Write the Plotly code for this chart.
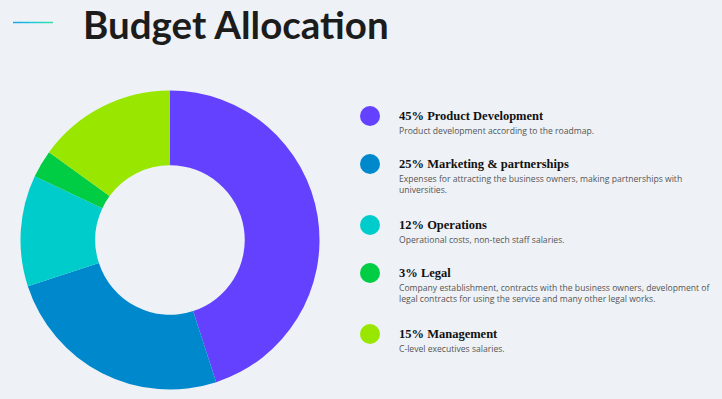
import plotly.graph_objects as go

W, H = 722, 399

# ---- data ----
categories = ["Product Development", "Marketing & partnerships", "Operations", "Legal", "Management"]
shares = [45, 25, 12, 3, 15]
descriptions = [
    "Product development according to the roadmap.",
    "Expenses for attracting the business owners, making partnerships with<br>universities.",
    "Operational costs, non-tech staff salaries.",
    "Company establishment, contracts with the business owners, development of<br>legal contracts for using the service and many other legal works.",
    "C-level executives salaries.",
]
colors = ["#6441FF", "#0088CC", "#00CCCC", "#00CC44", "#99E600"]
title_text = "Budget Allocation"

# ---- layout helpers (pixel -> paper) ----
def px(x):
    return x / W

def py(y):
    return 1 - y / H

legend_rows_y = [116, 164, 225, 273, 334]

fig = go.Figure()

cx, cy, r = 170, 240, 149.5
fig.add_trace(go.Pie(
    labels=categories,
    values=shares,
    hole=0.5,
    sort=False,
    direction="clockwise",
    rotation=0,
    marker=dict(colors=colors, line=dict(width=0)),
    textinfo="none",
    hoverinfo="label+percent",
    showlegend=False,
    domain=dict(x=[px(cx - r), px(cx + r)], y=[py(cy + r), py(cy - r)]),
))

shapes = []
annotations = []

# title accent line (gradient approximated by segments)
grad = ["#1aa8e8", "#1ab8e0", "#20c8d4", "#28d4c0", "#30dcaa"]
seg = 40 / len(grad)
for i, c in enumerate(grad):
    shapes.append(dict(type="line", xref="paper", yref="paper",
                       x0=px(13 + i * seg), x1=px(13 + (i + 1) * seg),
                       y0=py(22.5), y1=py(22.5),
                       line=dict(color=c, width=1.5)))

annotations.append(dict(text=f"<b>{title_text}</b>", xref="paper", yref="paper",
                        x=px(81), y=py(24), xanchor="left", yanchor="middle",
                        showarrow=False,
                        font=dict(family="Lato", size=38.5, color="#1c1c1c")))

for cat, val, desc, col, yy in zip(categories, shares, descriptions, colors, legend_rows_y):
    shapes.append(dict(type="circle", xref="paper", yref="paper",
                       x0=px(360), x1=px(380), y0=py(yy + 10), y1=py(yy - 10),
                       fillcolor=col, line=dict(width=0)))
    annotations.append(dict(text=f"<b>{val}% {cat}</b>", xref="paper", yref="paper",
                            x=px(397), y=py(yy - 0.5), xanchor="left", yanchor="middle",
                            showarrow=False, align="left",
                            font=dict(family="Liberation Serif", size=12.5, color="#111111")))
    annotations.append(dict(text=desc, xref="paper", yref="paper",
                            x=px(397), y=py(yy + 7), xanchor="left", yanchor="top",
                            showarrow=False, align="left",
                            font=dict(family="Open Sans", size=8.6, color="#555555")))

fig.update_layout(
    width=W, height=H,
    margin=dict(l=0, r=0, t=0, b=0),
    paper_bgcolor="#EEF2F6",
    plot_bgcolor="#EEF2F6",
    shapes=shapes,
    annotations=annotations,
)

fig.write_html("out.html",
               config=dict(displayModeBar=False),
               post_script="document.body.style.margin='0';document.body.style.background='#EEF2F6';")
